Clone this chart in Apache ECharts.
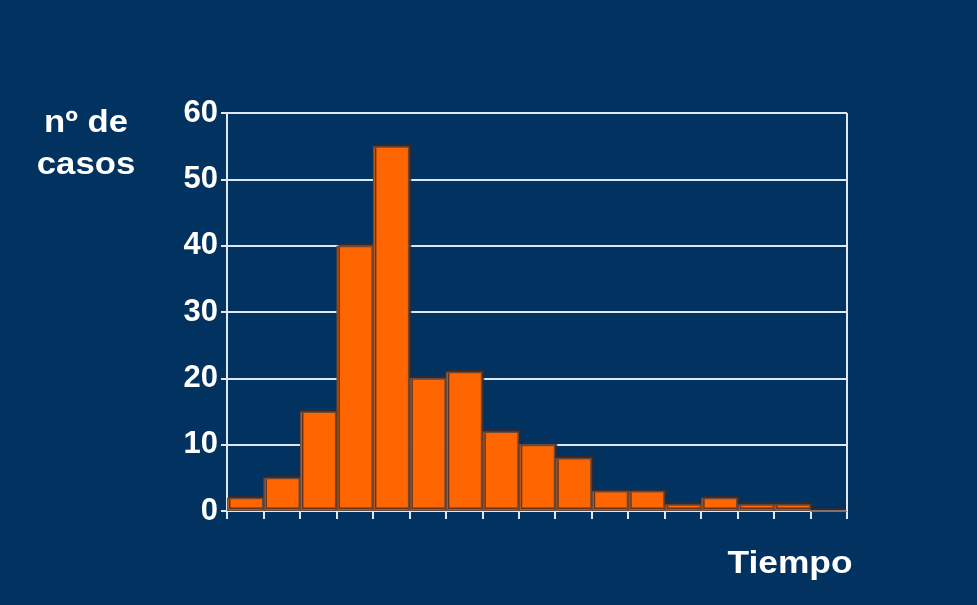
<!DOCTYPE html>
<html>
<head>
<meta charset="utf-8">
<script src="https://cdn.jsdelivr.net/npm/echarts@6/dist/echarts.min.js"></script>
<style>
  html, body { margin: 0; padding: 0; background: #ffffff; }
  #chart { width: 977px; height: 605px; }
</style>
</head>
<body>
<div id="chart"></div>
<script>
// intervalos de tiempo (sin etiqueta en el original)
var categorias = ['1', '2', '3', '4', '5', '6', '7', '8', '9', '10', '11', '12', '13', '14', '15', '16', '17'];
// nº de casos por intervalo
var casos = [2, 5, 15, 40, 55, 20, 21, 12, 10, 8, 3, 3, 1, 2, 1, 1, 0];
var yTicks = [0, 10, 20, 30, 40, 50, 60];

var myChart = echarts.init(document.getElementById('chart'));

var fuente = 'bold 31px "Liberation Sans"';

var option = {
    backgroundColor: '#02325f',
    animation: false,
    grid: { left: 227, right: 130, top: 113, bottom: 94 },
    graphic: [{
        type: 'text',
        x: 86, y: 123, scaleX: 1.12,
        style: { text: 'nº de', fill: '#ffffff', font: fuente, textAlign: 'center', textVerticalAlign: 'middle' }
    }, {
        type: 'text',
        x: 86, y: 165, scaleX: 1.12,
        style: { text: 'casos', fill: '#ffffff', font: fuente, textAlign: 'center', textVerticalAlign: 'middle' }
    }, {
        type: 'text',
        x: 790, y: 564, scaleX: 1.14,
        style: { text: 'Tiempo', fill: '#ffffff', font: fuente, textAlign: 'center', textVerticalAlign: 'middle' }
    }],
    xAxis: {
        type: 'category',
        data: categorias,
        axisLine: { lineStyle: { color: '#dfe8f2', width: 2 } },
        axisTick: { show: true, length: 8, lineStyle: { color: '#dfe8f2', width: 2 } },
        axisLabel: { show: false }
    },
    yAxis: {
        type: 'value',
        min: yTicks[0],
        max: yTicks[yTicks.length - 1],
        interval: 10,
        axisLine: { show: true, lineStyle: { color: '#dfe8f2', width: 2 } },
        axisTick: { show: true, length: 6, lineStyle: { color: '#dfe8f2', width: 2 } },
        axisLabel: {
            color: '#ffffff',
            fontFamily: 'Liberation Sans',
            fontSize: 31,
            fontWeight: 'bold',
            margin: 9
        },
        splitLine: { show: true, lineStyle: { color: '#dfe8f2', width: 2 } }
    },
    series: [{
        type: 'bar',
        data: casos,
        barWidth: '100%',
        barGap: '0%',
        itemStyle: {
            color: '#ff6600',
            borderColor: '#6b4a3a',
            borderWidth: 1.5,
            shadowColor: 'rgba(60,40,40,0.8)',
            shadowOffsetX: 2,
            shadowOffsetY: -2
        }
    }, {
        // borde derecho del área de trazado
        type: 'line',
        data: [],
        markLine: {
            silent: true,
            symbol: 'none',
            label: { show: false },
            lineStyle: { color: '#dfe8f2', width: 2, type: 'solid' },
            data: [[{ x: 847, y: 113 }, { x: 847, y: 511 }]]
        }
    }]
};

myChart.setOption(option);
</script>
</body>
</html>
